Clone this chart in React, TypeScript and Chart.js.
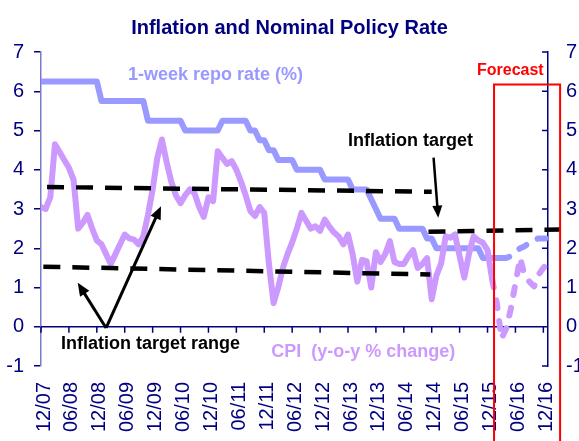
import React, { useEffect, useRef } from 'react';
import { Chart, registerables } from 'chart.js';

Chart.register(...registerables);

// ---- data ----
const tickLabels = ['12/07', '06/08', '12/08', '06/09', '12/09', '06/10', '12/10', '06/11', '12/11', '06/12', '12/12', '06/13', '12/13', '06/14', '12/14', '06/15', '12/15', '06/16', '12/16'];
const monthsPerTick = 6;
const lastMonth = 109; // 01/17

// 1-week repo rate, monthly from 12/07
const repoActual = [
  6.25, 6.25, 6.25, 6.25, 6.25, 6.25, 6.25, 6.25, 6.25, 6.25, 6.25, 6.25, 6.25,
  5.75, 5.75, 5.75, 5.75, 5.75, 5.75, 5.75, 5.75, 5.75, 5.75,
  5.25, 5.25, 5.25, 5.25, 5.25, 5.25, 5.25, 5.25,
  5.0, 5.0, 5.0, 5.0, 5.0, 5.0, 5.0, 5.0,
  5.25, 5.25, 5.25, 5.25, 5.25, 5.25,
  5.0, 5.0, 4.75, 4.75, 4.5, 4.5,
  4.25, 4.25, 4.25, 4.25,
  4.0, 4.0, 4.0, 4.0, 4.0, 4.0,
  3.75, 3.75, 3.75, 3.75, 3.75, 3.75,
  3.5, 3.5, 3.5, 3.5,
  3.25, 3.0,
  2.75, 2.75, 2.75, 2.75,
  2.5, 2.5, 2.5, 2.5, 2.5, 2.5,
  2.25, 2.25,
  2.0, 2.0, 2.0, 2.0, 2.0, 2.0, 2.0, 2.0, 2.0, 2.0,
  1.75, 1.75, 1.75, 1.75, 1.75,
];
const repoForecastStart = 99;
const repoForecast = [1.75, 1.75, 1.8, 1.9, 2.0, 2.05, 2.15, 2.22, 2.25, 2.25, 2.25];

// CPI y-o-y % change, monthly from 12/07
const cpiActual = [
  3.05, 3.0, 3.3, 4.65, 4.45, 4.25, 4.05, 3.75, 2.5, 2.65,
  2.85, 2.5, 2.2, 2.1, 1.85, 1.6, 1.85, 2.1, 2.35, 2.25,
  2.22, 2.1, 2.3, 2.85, 3.5, 4.3, 4.77, 4.2, 3.7, 3.35,
  3.15, 3.35, 3.5, 3.4, 3.05, 2.8, 3.3, 3.2, 4.47, 4.3,
  4.15, 4.22, 4.0, 3.7, 3.35, 2.95, 2.82, 3.05, 2.9, 1.6,
  0.6, 1.0, 1.5, 1.85, 2.15, 2.5, 2.9, 2.7, 2.5, 2.56,
  2.44, 2.73, 2.55, 2.4, 2.3, 2.1, 2.35, 1.85, 1.15, 1.7,
  1.67, 1.0, 1.9, 1.65, 1.85, 2.18, 1.65, 1.6, 1.6, 1.8,
  1.95, 1.5, 1.6, 1.75, 0.7, 1.3, 1.6, 2.3, 2.27, 2.35,
  1.8, 1.25, 1.85, 2.3, 2.2, 2.14, 1.95, 1.2,
];
const cpiForecastStart = 97;
const cpiForecast = [1.2, 0.6, -0.3, -0.05, 0.45, 1.1, 1.75, 1.3, 1.15, 1.03, 1.33, 1.5, 1.63];

// inflation target range and point target (x in months from 12/07)
const rangeUpperX = [1.3, 84];
const rangeUpperY = [3.56, 3.44];
const rangeLowerX = [0.5, 83.7];
const rangeLowerY = [1.53, 1.33];
const targetX = [83.3, 111.6];
const targetY = [2.42, 2.48];

const forecastBoxX = [97.4, 111.6];
const forecastBoxTop = 6.17;

const NAVY = '#000080';
const REPO = '#9999FF';
const CPI = '#CC99FF';
const FONT = '"Liberation Sans", Arial, sans-serif';

const pts = (xs: number[], ys: number[]) => xs.map((x, i) => ({ x, y: ys[i] }));
const seq = (start: number, ys: number[]) => ys.map((y, i) => ({ x: start + i, y }));

function drawArrow(ctx: CanvasRenderingContext2D, x1: number, y1: number, x2: number, y2: number, lw: number, head: number, half: number) {
  const a = Math.atan2(y2 - y1, x2 - x1);
  const c = Math.cos(a);
  const s = Math.sin(a);
  ctx.lineWidth = lw;
  ctx.beginPath();
  ctx.moveTo(x1, y1);
  ctx.lineTo(x2 - c * head * 0.8, y2 - s * head * 0.8);
  ctx.stroke();
  ctx.beginPath();
  ctx.moveTo(x2, y2);
  ctx.lineTo(x2 - c * head + s * half, y2 - s * head - c * half);
  ctx.lineTo(x2 - c * head - s * half, y2 - s * head + c * half);
  ctx.closePath();
  ctx.fill();
}

const axisPlugin = {
  id: 'axisExtras',
  beforeDatasetsDraw(chart: any) {
    const { ctx, chartArea, scales } = chart;
    const x = scales.x;
    const y = scales.y;
    const y0 = y.getPixelForValue(0);
    ctx.save();
    ctx.strokeStyle = NAVY;
    ctx.lineWidth = 1.5;
    ctx.beginPath();
    ctx.moveTo(chartArea.left, y0);
    ctx.lineTo(chartArea.right, y0);
    for (let m = 0; m <= lastMonth; m += monthsPerTick) {
      const px = x.getPixelForValue(m);
      ctx.moveTo(px, y0);
      ctx.lineTo(px, y0 + 6);
    }
    // inward ticks of the right axis
    for (let v = -1; v <= 7; v++) {
      const py = y.getPixelForValue(v);
      ctx.moveTo(chartArea.right - 6, py);
      ctx.lineTo(chartArea.right, py);
    }
    ctx.stroke();
    ctx.restore();
  },
  afterDraw(chart: any) {
    const { ctx, scales } = chart;
    const x = scales.x;
    const y = scales.y;
    const X = (m: number) => x.getPixelForValue(m);
    const Y = (v: number) => y.getPixelForValue(v);
    ctx.save();
    // forecast box
    ctx.strokeStyle = '#FF0000';
    ctx.lineWidth = 2;
    ctx.beginPath();
    ctx.moveTo(X(forecastBoxX[0]), chart.height + 5);
    ctx.lineTo(X(forecastBoxX[0]), Y(forecastBoxTop));
    ctx.lineTo(X(forecastBoxX[1]), Y(forecastBoxTop));
    ctx.lineTo(X(forecastBoxX[1]), chart.height + 5);
    ctx.stroke();

    // arrows
    ctx.strokeStyle = '#000';
    ctx.fillStyle = '#000';
    drawArrow(ctx, X(14), Y(-0.03), X(7.9), Y(1.12), 3, 13, 5.5);
    drawArrow(ctx, X(14), Y(-0.03), X(25.8), Y(3.07), 3, 13, 5.5);
    drawArrow(ctx, X(84.4), Y(4.31), X(85.4), Y(2.78), 2.5, 12, 5);

    // texts
    ctx.textBaseline = 'middle';
    ctx.textAlign = 'left';
    ctx.font = `bold 18px ${FONT}`;
    ctx.fillStyle = REPO;
    ctx.fillText('1-week repo rate (%)', X(18.7), Y(6.42));
    ctx.fillStyle = '#000';
    ctx.fillText('Inflation target', X(66), Y(4.72));
    ctx.fillText('Inflation target range', X(4.3), Y(-0.45));
    ctx.fillStyle = CPI;
    ctx.fillText('CPI  (y-o-y % change)', X(49.5), Y(-0.65));
    ctx.font = `bold 16px ${FONT}`;
    ctx.fillStyle = '#FF0000';
    ctx.textAlign = 'center';
    ctx.fillText('Forecast', X(100.9), Y(6.53));
    ctx.restore();
  },
};

export default function App() {
  const ref = useRef<HTMLCanvasElement | null>(null);

  useEffect(() => {
    if (!ref.current) return;
    const solid = { pointRadius: 0, borderWidth: 6, borderJoinStyle: 'round', borderCapStyle: 'round', tension: 0 };
    const dashedBlack = { pointRadius: 0, borderWidth: 4.5, borderColor: '#000', borderDash: [17, 12], borderCapStyle: 'butt', clip: false };
    const chart = new Chart(ref.current, {
      type: 'line',
      data: {
        datasets: [
          { label: 'Inflation target range (upper)', data: pts(rangeUpperX, rangeUpperY), ...dashedBlack },
          { label: 'Inflation target range (lower)', data: pts(rangeLowerX, rangeLowerY), ...dashedBlack },
          { label: 'Inflation target', data: pts(targetX, targetY), ...dashedBlack },
          { label: 'CPI (y-o-y % change)', data: seq(0, cpiActual), borderColor: CPI, ...solid },
          { label: 'CPI forecast', data: seq(cpiForecastStart, cpiForecast), borderColor: CPI, ...solid, borderDash: [8, 13] },
          { label: '1-week repo rate (%)', data: seq(0, repoActual), borderColor: REPO, ...solid },
          { label: 'Repo forecast', data: seq(repoForecastStart, repoForecast), borderColor: REPO, ...solid, borderDash: [8, 13] },
        ] as any,
      },
      options: {
        animation: false,
        responsive: true,
        maintainAspectRatio: false,
        devicePixelRatio: 1,
        layout: { padding: 0 },
        plugins: {
          legend: { display: false },
          tooltip: { enabled: false },
          title: {
            display: true,
            text: 'Inflation and Nominal Policy Rate',
            color: NAVY,
            font: { family: FONT, size: 20, weight: 'bold' },
            padding: { top: 16, bottom: 12 },
          },
        },
        scales: {
          x: {
            type: 'linear',
            position: 'bottom',
            min: 0,
            max: lastMonth,
            afterBuildTicks: (s: any) => {
              s.ticks = tickLabels.map((_, i) => ({ value: i * monthsPerTick }));
            },
            afterFit: (s: any) => {
              s.height = 75;
              s.paddingLeft = 0;
              s.paddingRight = 0;
            },
            ticks: {
              autoSkip: false,
              maxRotation: 90,
              minRotation: 90,
              padding: 16,
              labelOffset: 3,
              color: NAVY,
              font: { family: FONT, size: 20 },
              callback: (v: any) => tickLabels[Math.round(Number(v) / monthsPerTick)],
            },
            grid: { display: false, drawTicks: false, tickLength: 0 },
            border: { display: false },
          },
          y: {
            type: 'linear',
            position: 'left',
            min: -1,
            max: 7,
            afterFit: (s: any) => {
              s.width = 41;
            },
            ticks: { stepSize: 1, color: NAVY, font: { family: FONT, size: 20 }, padding: 10 },
            grid: { drawOnChartArea: false, drawTicks: true, tickLength: 7, color: NAVY, lineWidth: 1.5 },
            border: { display: true, color: '#7a7ac8', width: 1.5 },
          },
          y1: {
            type: 'linear',
            position: 'right',
            min: -1,
            max: 7,
            afterFit: (s: any) => {
              s.width = 31;
            },
            ticks: { stepSize: 1, color: NAVY, font: { family: FONT, size: 20 }, padding: 18 },
            grid: { display: false, drawTicks: false, tickLength: 0 },
            border: { display: true, color: NAVY, width: 1.5 },
          },
        },
      } as any,
      plugins: [axisPlugin],
    });
    return () => chart.destroy();
  }, []);

  return (
    <div style={{ position: 'fixed', left: 0, top: 0, width: 579, height: 441, background: '#fff' }}>
      <canvas ref={ref} />
    </div>
  );
}
